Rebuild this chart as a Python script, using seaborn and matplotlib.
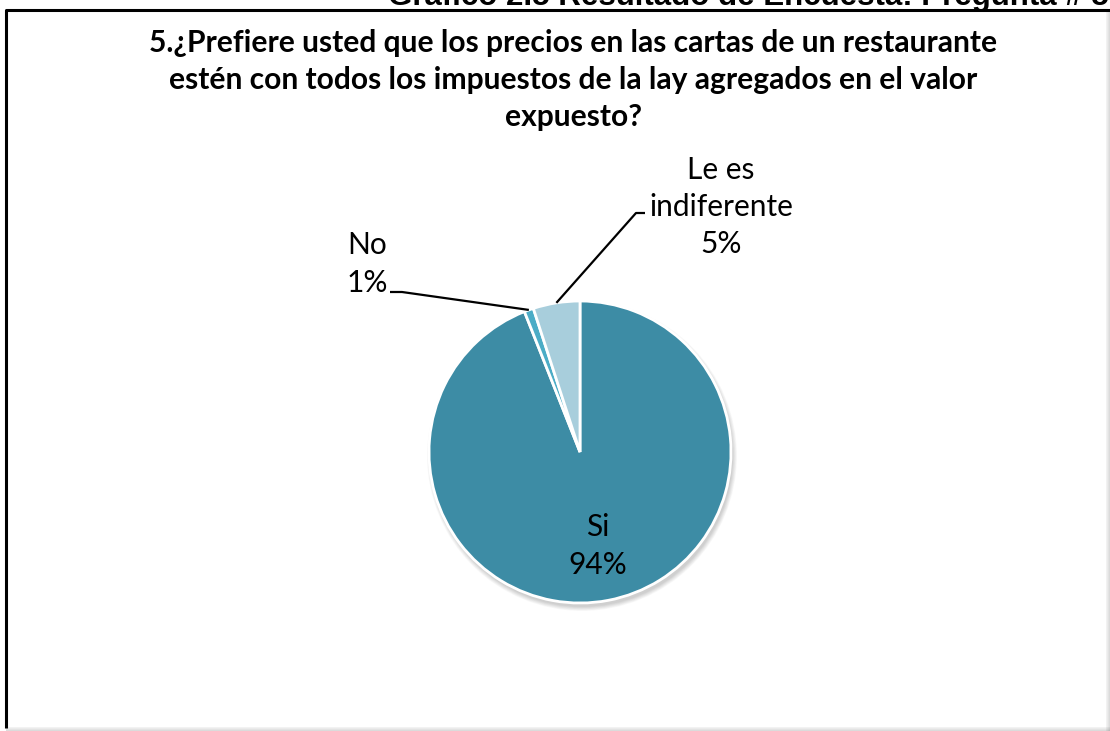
import numpy as np
import matplotlib
matplotlib.use("Agg")
import matplotlib.pyplot as plt
from matplotlib.patches import Circle, Rectangle
import seaborn as sns

# Survey answers, question 5
categories = ["Si", "No", "Le es indiferente"]
percentages = [94, 1, 5]
label_texts = ["Si\n94%", "No\n1%", "Le es\nindiferente\n5%"]
colors = ["#3D8CA5", "#4BACC6", "#A8CEDC"]

header = "Gráfico 2.5 Resultado de Encuesta: Pregunta # 5"
title = ("5.¿Prefiere usted que los precios en las cartas de un restaurante\n"
         "estén con todos los impuestos de la lay agregados en el valor\n"
         "expuesto?")

sns.set_theme(style="white")
plt.rcParams["font.family"] = ["Lato", "DejaVu Sans"]

W, H = 1110, 731
fig = plt.figure(figsize=(W / 100, H / 100), dpi=100)
ax = fig.add_axes([0, 0, 1, 1])
ax.set_axis_off()


def Y(y):
    return H - y


cx, cy, r = 580, 452, 151

# soft drop shadow below the pie
for i in range(8):
    ax.add_patch(Circle((cx + 2, Y(cy + 4)), r + 4 - i * 0.6,
                        color="#000000", alpha=0.025, lw=0, zorder=1))

wedges, _ = ax.pie(percentages, colors=colors, startangle=90,
                   counterclock=False, center=(cx, Y(cy)), radius=r,
                   wedgeprops=dict(edgecolor="white", linewidth=2),
                   frame=True)
for w in wedges:
    w.set_zorder(2)

ax.set_xlim(0, W)
ax.set_ylim(0, H)
ax.set_aspect("equal")
ax.set_axis_off()

# label positions (text centre) and leader-line elbows
label_pos = {"Si": (598, 546), "No": (367, 264), "Le es indiferente": (721, 207)}
elbows = {"No": [(390, 292), (402, 292)],
          "Le es indiferente": [(645, 213), (636, 213)]}

for w, cat, txt in zip(wedges, categories, label_texts):
    x, y = label_pos[cat]
    ax.text(x, Y(y), txt, ha="center", va="center", fontsize=21.5,
            linespacing=1.40, color="#000000", zorder=5)
    if cat in elbows:
        mid = np.deg2rad((w.theta1 + w.theta2) / 2)
        ax_pt = (cx + r * np.cos(mid), Y(cy) + r * np.sin(mid))
        pts = [(px, Y(py)) for px, py in elbows[cat]] + [ax_pt]
        xs, ys = zip(*pts)
        ax.plot(xs, ys, color="black", lw=1.6, zorder=4,
                solid_capstyle="butt")

ax.text(573, Y(80), title, ha="center", va="center", fontsize=21.6,
        fontweight="bold", linespacing=1.41, color="#000000")

# header caption that sits above the chart frame
ax.text(388, Y(5), header, ha="left", va="baseline", fontsize=22.5,
        fontweight="bold", family="Liberation Sans", color="#000000")

# chart frame with a light shadow on the right and bottom
ax.add_patch(Rectangle((0, 0), W, Y(10), facecolor="white",
                       edgecolor="none", zorder=0))
for i, a in enumerate([0.05, 0.08, 0.11, 0.14]):
    ax.add_patch(Rectangle((1106 + i, 0), 1, Y(10), color="#000000",
                           alpha=a, lw=0, zorder=0.5))
    ax.add_patch(Rectangle((6, i), W, 1, color="#000000",
                           alpha=0.14 - i * 0.03, lw=0, zorder=0.5))
ax.plot([6, 6, W], [Y(728), Y(10), Y(10)], color="black", lw=2.2,
        solid_capstyle="butt", zorder=6)

fig.savefig("out.png", dpi=100)
